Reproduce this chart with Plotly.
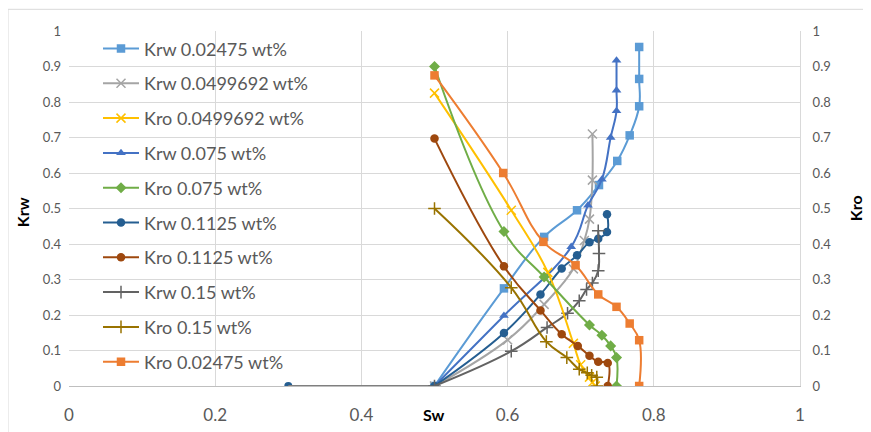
import plotly.graph_objects as go

# ---- data ----
sw_krw_02475 = [0.5, 0.595, 0.65, 0.695, 0.725, 0.75, 0.767, 0.78, 0.78, 0.78]
krw_02475 = [0, 0.275, 0.42, 0.495, 0.566, 0.634, 0.706, 0.788, 0.865, 0.955]

sw_krw_0499 = [0.5, 0.6, 0.65, 0.69, 0.705, 0.712, 0.716, 0.716]
krw_0499 = [0, 0.13, 0.23, 0.33, 0.41, 0.47, 0.58, 0.71]

sw_kro_0499 = [0.5, 0.605, 0.655, 0.69, 0.7, 0.712, 0.716, 0.72]
kro_0499 = [0.825, 0.495, 0.32, 0.12, 0.06, 0.025, 0.01, 0.0]

sw_krw_075 = [0.5, 0.595, 0.687, 0.71, 0.729, 0.741, 0.749, 0.749, 0.749]
krw_075 = [0, 0.198, 0.392, 0.509, 0.582, 0.70, 0.775, 0.833, 0.917]

sw_kro_075 = [0.5, 0.595, 0.65, 0.712, 0.729, 0.741, 0.749, 0.749]
kro_075 = [0.9, 0.435, 0.307, 0.172, 0.143, 0.113, 0.08, 0.0]

# first point of the 0.1125 / 0.15 Krw curves sits at Sw = 0.3
sw_start = [0.3, 0.5]
kr_start = [0, 0]

sw_krw_1125 = [0.5, 0.595, 0.645, 0.674, 0.695, 0.712, 0.724, 0.736, 0.736]
krw_1125 = [0, 0.149, 0.258, 0.331, 0.368, 0.405, 0.415, 0.434, 0.484]

sw_kro_1125 = [0.5, 0.595, 0.645, 0.674, 0.696, 0.712, 0.724, 0.737, 0.737]
kro_1125 = [0.697, 0.337, 0.213, 0.146, 0.113, 0.085, 0.068, 0.065, 0.0]

sw_krw_15 = [0.5, 0.605, 0.654, 0.682, 0.698, 0.708, 0.716, 0.724, 0.725, 0.724]
krw_15 = [0, 0.098, 0.165, 0.205, 0.24, 0.272, 0.29, 0.325, 0.373, 0.437]

sw_kro_15 = [0.5, 0.605, 0.653, 0.681, 0.698, 0.709, 0.715, 0.722, 0.722]
kro_15 = [0.5, 0.277, 0.125, 0.08, 0.047, 0.037, 0.03, 0.025, 0.0]

sw_kro_02475 = [0.5, 0.594, 0.649, 0.693, 0.724, 0.749, 0.767, 0.78, 0.78]
kro_02475 = [0.875, 0.6, 0.406, 0.34, 0.258, 0.223, 0.176, 0.129, 0.0]

x_ticks = [0, 0.2, 0.4, 0.6, 0.8, 1]
y_ticks = [0, 0.1, 0.2, 0.3, 0.4, 0.5, 0.6, 0.7, 0.8, 0.9, 1]

series = [
    ("Krw 0.02475 wt%", sw_krw_02475, krw_02475, "#5B9BD5", "square", "y"),
    ("Krw 0.0499692 wt%", sw_krw_0499, krw_0499, "#A5A5A5", "x-thin", "y"),
    ("Kro 0.0499692 wt%", sw_kro_0499, kro_0499, "#FFC000", "x-thin", "y2"),
    ("Krw 0.075 wt%", sw_krw_075, krw_075, "#4472C4", "triangle-up", "y"),
    ("Kro 0.075 wt%", sw_kro_075, kro_075, "#70AD47", "diamond", "y2"),
    ("Krw 0.1125 wt%", sw_krw_1125, krw_1125, "#255E91", "circle", "y"),
    ("Kro 0.1125 wt%", sw_kro_1125, kro_1125, "#9E480E", "circle", "y2"),
    ("Krw 0.15 wt%", sw_krw_15, krw_15, "#636363", "cross-thin", "y"),
    ("Kro 0.15 wt%", sw_kro_15, kro_15, "#997300", "cross-thin", "y2"),
    ("Kro 0.02475 wt%", sw_kro_02475, kro_02475, "#ED7D31", "square", "y2"),
]

FONT = "Lato"
OFF = 8  # page body margin of the html page
L, T, W, H = 69 - OFF, 31 - OFF, 731, 355

fig = go.Figure()

# starting segments (Sw 0.3 -> 0.5) of Krw 0.1125 and Krw 0.15
fig.add_trace(go.Scatter(x=sw_start, y=kr_start, mode="lines+markers", showlegend=False,
                         line=dict(color="#255E91", width=2),
                         marker=dict(symbol="circle", size=8, color="#255E91")))
fig.add_trace(go.Scatter(x=sw_start, y=kr_start, mode="lines", showlegend=False,
                         line=dict(color="#7F7F7F", width=2)))

for i, (name, xs, ys, col, sym, ax) in enumerate(series):
    thin = sym.endswith("thin")
    fig.add_trace(go.Scatter(
        x=xs, y=ys, name=name, yaxis=ax, mode="lines+markers",
        legendgroup=f"g{i}",
        line=dict(color=col, width=2, shape="spline", smoothing=1.2),
        marker=dict(symbol=sym, size=9 if thin else 8.5, color=col,
                    line=dict(color=col, width=1.5 if thin else 0)),
    ))

grid = "#D9D9D9"
tickc = "#595959"


def px(xp):
    return (xp - 69) / W


def py(yp):
    return (385.7 - yp) / H


fig.update_layout(
    width=871, height=432,
    margin=dict(l=L, r=871 - L - W, t=T, b=432 - T - H),
    paper_bgcolor="white", plot_bgcolor="white",
    font=dict(family=FONT, color=tickc),
    showlegend=True,
    legend=dict(x=px(98), y=py(30), xanchor="left", yanchor="top",
                bgcolor="rgba(0,0,0,0)", font=dict(size=18, color="#595959"),
                traceorder="grouped", tracegroupgap=8.4, itemwidth=36, maxheight=600),
    xaxis=dict(range=[0, 1], tickvals=x_ticks, ticktext=[f"{v:g}" for v in x_ticks],
               showgrid=True, gridcolor=grid, gridwidth=1, zeroline=False,
               showline=True, linecolor="#BFBFBF", ticks="", tickfont=dict(size=17, color=tickc),
               ticklabelstandoff=14, fixedrange=True),
    yaxis=dict(range=[0, 1], tickvals=y_ticks, ticktext=[f"{v:g}" for v in y_ticks],
               showgrid=True, gridcolor=grid, zeroline=False, showline=False,
               ticks="", tickfont=dict(size=13, color=tickc), ticklabelstandoff=7),
    yaxis2=dict(range=[0, 1], tickvals=y_ticks, ticktext=[f"{v:g}" for v in y_ticks],
                overlaying="y", side="right", showgrid=False, zeroline=False,
                showline=True, linecolor="#D9D9D9", ticks="",
                tickfont=dict(size=13, color=tickc), ticklabelstandoff=9),
    annotations=[
        dict(text="<b>Krw</b>", xref="paper", yref="paper", x=px(22), y=py(212),
             xanchor="center", yanchor="middle",
             showarrow=False, textangle=-90, font=dict(size=16, color="#000000", family=FONT)),
        dict(text="<b>Kro</b>", xref="paper", yref="paper", x=px(855), y=py(208),
             xanchor="center", yanchor="middle",
             showarrow=False, textangle=-90, font=dict(size=16, color="#000000", family=FONT)),
        dict(text="<b>Sw</b>", xref="paper", yref="paper", x=px(434), y=py(414),
             xanchor="center", yanchor="middle",
             showarrow=False, font=dict(size=16, color="#000000", family=FONT)),
    ],
    shapes=[dict(type="rect", xref="paper", yref="paper",
                 x0=px(8), y0=py(440), x1=px(880), y1=py(9),
                 line=dict(color="#D9D9D9", width=1), fillcolor="rgba(0,0,0,0)", layer="below")],
)

fig.write_html("out.html")
